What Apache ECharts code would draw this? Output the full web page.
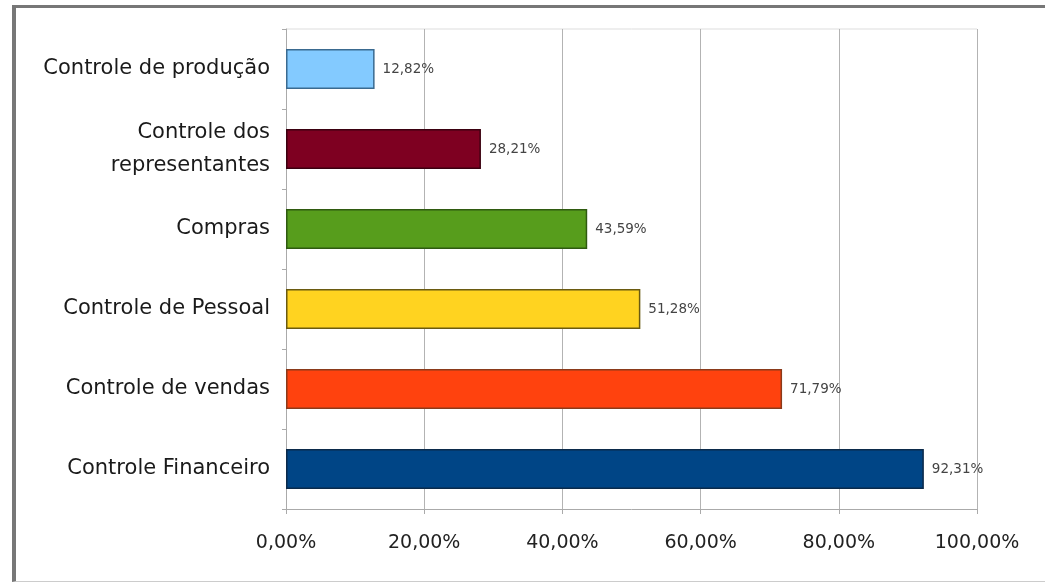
<!DOCTYPE html>
<html>
<head>
<meta charset="utf-8">
<script src="https://cdn.jsdelivr.net/npm/echarts@6/dist/echarts.min.js"></script>
<style>
html,body{margin:0;padding:0;background:#fff;}
#frame{position:absolute;left:12px;top:5px;width:1040px;height:577px;border-left:4px solid #777;border-top:3px solid #777;border-bottom:1px solid #ccc;box-sizing:border-box;}
#c{position:absolute;left:0;top:0;width:1045px;height:584px;}
</style>
</head>
<body>
<div id="frame"></div>
<div id="c"></div>
<script>
const categories = ["Controle Financeiro","Controle de vendas","Controle de Pessoal","Compras","Controle dos\nrepresentantes","Controle de produção"];
const values = [92.31, 71.79, 51.28, 43.59, 28.21, 12.82];
const colors = ["#004586","#ff420e","#ffd320","#579d1c","#7e0021","#83caff"];
const borders = ["#0b2a4a","#8a3a1a","#6a5a10","#2f5a10","#3a0010","#3a6a90"];
const xTicks = [0,20,40,60,80,100];

const fmt = v => v.toFixed(2).replace('.', ',') + '%';

const chart = echarts.init(document.getElementById('c'));
chart.setOption({
  animation:false,
  backgroundColor:'transparent',
  grid:{left:286,top:29,right:68,bottom:75},
  xAxis:{
    type:'value',min:xTicks[0],max:xTicks[xTicks.length-1],interval:20,
    axisLine:{show:true,lineStyle:{color:'#aaa'}},
    axisTick:{show:true,length:5,lineStyle:{color:'#aaa'}},
    splitLine:{show:true,lineStyle:{color:'#b3b3b3',width:1}},
    axisLabel:{formatter:v=>fmt(v),color:'#222',fontSize:19,fontFamily:'DejaVu Sans, sans-serif',margin:25}
  },
  yAxis:{
    type:'category',data:categories,
    axisLine:{show:true,lineStyle:{color:'#aaa'}},
    axisTick:{show:true,length:4,lineStyle:{color:'#aaa'}},
    axisLabel:{color:'#1a1a1a',fontSize:21,fontFamily:'DejaVu Sans, sans-serif',margin:16,lineHeight:33,align:'right'}
  },
  series:[{
    type:'bar',
    barWidth:40,
    data:values.map((v,i)=>({value:v,itemStyle:{color:colors[i],borderColor:borders[i],borderWidth:1.5}})),
    label:{show:true,position:'right',distance:8,formatter:p=>fmt(p.value),fontSize:13.5,color:'#444',fontFamily:'DejaVu Sans, sans-serif'}
  }],
  graphic:[{type:'line',shape:{x1:286,y1:29,x2:977,y2:29},style:{stroke:'#ddd',lineWidth:1}}]
});
</script>
</body>
</html>
